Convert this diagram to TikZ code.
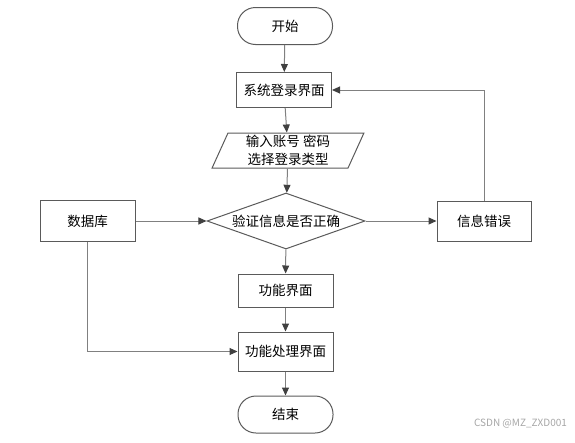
\documentclass[tikz,border=0pt]{standalone}
\usepackage{fontspec}
\newfontfamily\cjk{Noto Sans CJK SC}
\usetikzlibrary{shapes.geometric,arrows.meta}
\definecolor{linegray}{HTML}{808080}
\definecolor{boxgray}{HTML}{5A5A5A}
\definecolor{tipgray}{HTML}{404040}
\begin{document}
\begin{tikzpicture}[
x=1pt, y=-1pt,
every node/.style={font=\cjk\fontsize{13.5}{18}\selectfont, text=black},
box/.style={
draw=boxgray,
line width=1pt,
minimum width=95pt,
minimum height=35pt
},
term/.style={box, rounded corners=18pt, minimum height=37pt},
io/.style={
draw=boxgray,
line width=1pt,
trapezium,
trapezium left angle=70,
trapezium right angle=110,
trapezium stretches=true,
minimum width=152pt,
minimum height=35pt,
inner sep=0pt,
align=center
},
decide/.style={
draw=boxgray,
line width=1pt,
diamond,
aspect=2.8,
inner sep=0pt,
minimum width=158pt,
minimum height=56pt
},
arrow/.style={draw=linegray, line width=1pt,
-{Triangle[length=8pt, width=7pt, color=tipgray]}},
line/.style={draw=linegray, line width=1pt}
]
\useasboundingbox (0,0) rectangle (575,442);
\node[term] (start) at (285,26) {开始};
\node[box] (login) at (284,90) {系统登录界面};
\node[io] (input) at (288,150.5) {输入账号 密码\\选择登录类型};
\node[decide] (check) at (286,221) {验证信息是否正确};
\node[box, minimum height=41pt] (db) at (87.5,221) {数据库};
\node[box, minimum width=94pt, minimum height=40pt] (err) at (484,221) {信息错误};
\node[box, minimum height=33pt] (func) at (285.5,290.5) {功能界面};
\node[box, minimum height=39pt] (proc) at (285.5,351.5) {功能处理界面};
\node[term] (end) at (285.5,414.5) {结束};
\node[font=\cjk\fontsize{10}{12}\selectfont, text=black!35] (mark) at (520.5,424) {CSDN @MZ\_ZXD001};
\draw[arrow] (start) -- (login);
\draw[arrow] (login) -- (input);
\draw[arrow] (input) -- (check);
\draw[arrow] (db) -- (check);
\draw[arrow] (check) -- (err);
\draw[arrow] (err.north) |- (login.east);
\draw[arrow] (check) -- (func);
\draw[arrow] (func) -- (proc);
\draw[arrow] (db.south) |- (proc.west);
\draw[arrow] (proc) -- (end);
\end{tikzpicture}
\end{document}
